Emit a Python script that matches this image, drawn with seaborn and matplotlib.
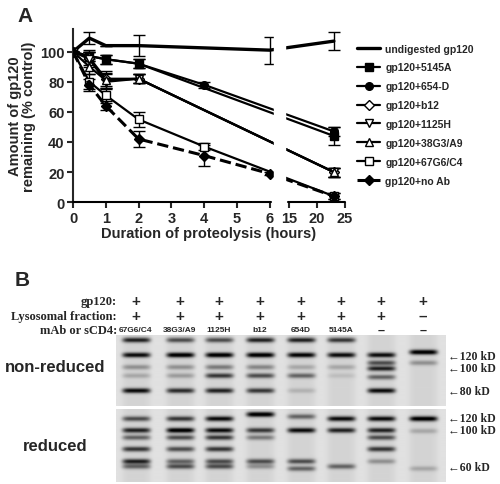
import numpy as np
import matplotlib
matplotlib.use("Agg")
import matplotlib.pyplot as plt
import seaborn as sns

sns.set_style("white")
plt.rcParams['font.family'] = ['Liberation Sans', 'DejaVu Sans']

# ---- panel A data ----
series_names = ["undigested gp120", "gp120+5145A", "gp120+654-D", "gp120+b12",
                "gp120+1125H", "gp120+38G3/A9", "gp120+67G6/C4", "gp120+no Ab"]
hours = {
    "undigested gp120": [0, 0.5, 1, 2, 6, 23],
    "gp120+5145A": [0, 0.5, 1, 2, 23],
    "gp120+654-D": [0, 0.5, 1, 2, 4, 23],
    "gp120+b12": [0, 0.5, 1, 2, 23],
    "gp120+1125H": [0, 0.5, 1, 2, 23],
    "gp120+38G3/A9": [0, 0.5, 1, 2, 23],
    "gp120+67G6/C4": [0, 0.5, 1, 2, 4, 23],
    "gp120+no Ab": [0, 0.5, 1, 2, 4, 6, 23],
}
remaining = {
    "undigested gp120": [100, 109, 104, 104, 101, 107],
    "gp120+5145A": [100, 97, 95, 92, 44],
    "gp120+654-D": [100, 97, 95, 92, 78, 47],
    "gp120+b12": [100, 96, 82, 82, 20],
    "gp120+1125H": [100, 95, 80, 82, 20],
    "gp120+38G3/A9": [100, 90, 81, 82, 20],
    "gp120+67G6/C4": [100, 80, 71, 55, 37, 4],
    "gp120+no Ab": [100, 78, 64, 42, 31, 19, 4],
}
errors = {
    "undigested gp120": [0, 4, 0, 7, 9, 6],
    "gp120+5145A": [0, 3, 3, 3, 6],
    "gp120+654-D": [0, 3, 3, 3, 2, 3],
    "gp120+b12": [0, 5, 5, 3, 3],
    "gp120+1125H": [0, 5, 5, 3, 3],
    "gp120+38G3/A9": [0, 5, 5, 3, 3],
    "gp120+67G6/C4": [0, 5, 5, 5, 2, 2],
    "gp120+no Ab": [0, 4, 3, 5, 7, 1, 2],
}
styles = {
    "undigested gp120": dict(marker=None, mfc="k", ls="-", lw=2.4),
    "gp120+5145A": dict(marker="s", mfc="k", ls="-", lw=1.6),
    "gp120+654-D": dict(marker="o", mfc="k", ls="-", lw=1.6),
    "gp120+b12": dict(marker="D", mfc="white", ls="-", lw=1.6),
    "gp120+1125H": dict(marker="v", mfc="white", ls="-", lw=1.6),
    "gp120+38G3/A9": dict(marker="^", mfc="white", ls="-", lw=1.6),
    "gp120+67G6/C4": dict(marker="s", mfc="white", ls="-", lw=1.6),
    "gp120+no Ab": dict(marker="D", mfc="k", ls="--", lw=2.2),
}


def tx(h):
    # broken axis: 0-6 linear, then 15-25 compressed
    h = np.asarray(h, float)
    return np.where(h <= 6, h, 6.6 + (h - 15) * 0.17)


# ---- panel B data (band position from gel top as fraction, intensity) ----
lane_labels = ["67G6/C4", "38G3/A9", "1125H", "b12", "654D", "5145A", "\u2013", "\u2013"]
lyso_labels = ["+", "+", "+", "+", "+", "+", "+", "\u2013"]
lane_centers = [136, 180, 219, 260, 301, 341, 381, 423]
nonred_bands = [
    [(0.08, .8), (0.29, .9), (0.46, .3), (0.58, .2), (0.79, .9)],
    [(0.08, .6), (0.29, 1), (0.46, .3), (0.58, .25), (0.79, .75)],
    [(0.08, .6), (0.29, 1), (0.46, .4), (0.58, .7), (0.79, .8)],
    [(0.08, .8), (0.29, 1), (0.46, .35), (0.58, .6), (0.79, .7)],
    [(0.08, .8), (0.29, .95), (0.46, .2), (0.58, .5), (0.79, .15)],
    [(0.08, .7), (0.29, .9), (0.46, .2), (0.58, .1)],
    [(0.29, .9), (0.40, .6), (0.48, .8), (0.6, .5), (0.79, .9)],
    [(0.25, 1), (0.40, .3)],
]
red_bands = [
    [(0.13, .6), (0.29, .8), (0.39, .5), (0.55, .7), (0.72, .8), (0.79, .5)],
    [(0.13, .7), (0.29, 1), (0.39, .6), (0.55, .6), (0.72, .5), (0.79, .6)],
    [(0.13, .9), (0.29, .9), (0.39, .7), (0.55, .7), (0.72, .6), (0.79, .6)],
    [(0.07, 1), (0.29, .7), (0.39, .4), (0.72, .6), (0.79, .3)],
    [(0.10, .5), (0.29, .9), (0.72, .6), (0.82, .5)],
    [(0.13, .9), (0.29, .8), (0.79, .5)],
    [(0.13, .9), (0.29, .8), (0.39, .6), (0.55, .7), (0.72, .3)],
    [(0.13, 1), (0.30, .2), (0.82, .2)],
]
nonred_markers = [("120 kD", 0.29), ("100 kD", 0.46), ("80 kD", 0.79)]
red_markers = [("120 kD", 0.13), ("100 kD", 0.29), ("60 kD", 0.79)]


def gel_image(bands, width=330, height=100, x0=116):
    img = np.full((height, width), 0.12)
    ys = np.linspace(0, 1, height)[:, None]
    xs = np.arange(width)[None, :] + x0
    for cx, lane in zip(lane_centers, bands):
        lane_mask = np.exp(-((xs - cx) / 14.0) ** 6)
        img += 0.05 * lane_mask * np.ones_like(ys)
        for pos, inten in lane:
            img += inten * 0.9 * lane_mask * np.exp(-((ys - pos) / 0.035) ** 2)
    return np.clip(img, 0, 1)


fig = plt.figure(figsize=(5, 4.85), dpi=100)

# ---- panel A ----
ax = fig.add_axes([0.146, 0.581, 0.544, 0.357])
for name in series_names:
    st = styles[name]
    x = tx(hours[name])
    y = remaining[name]
    sns.lineplot(x=x, y=y, ax=ax, color="k", lw=st["lw"], linestyle=st["ls"],
                 marker=st["marker"], markersize=5.5, markerfacecolor=st["mfc"],
                 markeredgecolor="k", markeredgewidth=1, label=name, zorder=3)
    ax.errorbar(x, y, yerr=errors[name], fmt="none", ecolor="k", elinewidth=1,
                capsize=4, zorder=2)
ax.axvspan(6.12, 6.48, color="white", zorder=5)
ax.set_xlim(0, tx(25))
ax.set_ylim(0, 115)
ax.set_yticks([0, 20, 40, 60, 80, 100])
ax.set_xticks(list(tx([0, 1, 2, 3, 4, 5, 6, 15, 20, 25])))
ax.set_xticklabels(["0", "1", "2", "3", "4", "5", "6", "15", "20", "25"])
ax.tick_params(labelsize=10.5, width=1.5, length=4, pad=2, direction="out", bottom=True, left=True)
for lab in ax.get_xticklabels() + ax.get_yticklabels():
    lab.set_fontweight("bold")
for s in ["top", "right"]:
    ax.spines[s].set_visible(False)
ax.spines["left"].set_linewidth(1.5)
ax.spines["bottom"].set_visible(False)
trans = ax.get_xaxis_transform()
ax.plot([0, 6.05], [0, 0], color="k", lw=1.5, transform=trans, clip_on=False, zorder=6)
ax.plot([6.55, tx(25)], [0, 0], color="k", lw=1.5, transform=trans, clip_on=False, zorder=6)
ax.set_xlabel("Duration of proteolysis (hours)", fontsize=10.5, fontweight="bold", labelpad=1)
ax.set_ylabel("Amount of gp120\nremaining (% control)", fontsize=10.5, fontweight="bold",
              labelpad=3, linespacing=1.0)
leg = ax.legend(loc="upper left", bbox_to_anchor=(1.01, 0.97), frameon=False,
                prop=dict(size=7.5, weight="bold"), handlelength=2.2, handletextpad=0.5,
                labelspacing=0.85)
fig.text(0.035, 0.955, "A", fontsize=15, fontweight="bold")

# ---- panel B ----
fig.text(0.03, 0.41, "B", fontsize=15, fontweight="bold")
serif = dict(family=["Liberation Serif", "DejaVu Serif"], fontweight="bold", fontsize=9)
fig.text(117 / 500, 1 - 302 / 485, "gp120:", ha="right", va="center", **serif)
fig.text(117 / 500, 1 - 317 / 485, "Lysosomal fraction:", ha="right", va="center", **serif)
fig.text(117 / 500, 1 - 331 / 485, "mAb or sCD4:", ha="right", va="center", **serif)
for cx, ly, lab in zip(lane_centers, lyso_labels, lane_labels):
    fig.text(cx / 500, 1 - 302 / 485, "+", ha="center", va="center", fontsize=11, fontweight="bold")
    fig.text(cx / 500, 1 - 317 / 485, ly, ha="center", va="center", fontsize=11, fontweight="bold")
    fig.text(cx / 500, 1 - 331 / 485, lab, ha="center", va="center",
             fontsize=9 if lab == "\u2013" else 6, fontweight="bold")

for bands, markers, rect, title, ty in [
        (nonred_bands, nonred_markers, [116 / 500, 1 - 407 / 485, 330 / 500, 71 / 485], "non-reduced", 368),
        (red_bands, red_markers, [116 / 500, 1 - 483 / 485, 330 / 500, 73 / 485], "reduced", 447)]:
    gax = fig.add_axes(rect)
    gax.imshow(gel_image(bands), cmap="gray_r", aspect="auto", vmin=0, vmax=1,
               extent=(0, 1, 1, 0))
    gax.set_xticks([])
    gax.set_yticks([])
    for s in gax.spines.values():
        s.set_visible(False)
    for lab, pos in markers:
        gax.text(1.005, 1 - pos, "\u2190" + lab, transform=gax.transAxes, ha="left", va="center",
                 family=["Liberation Serif", "DejaVu Serif"], fontweight="bold", fontsize=8.5)
    fig.text(55 / 500, 1 - ty / 485, title, ha="center", va="center", fontsize=12, fontweight="bold")

fig.savefig("out.png", dpi=100, facecolor="white")
